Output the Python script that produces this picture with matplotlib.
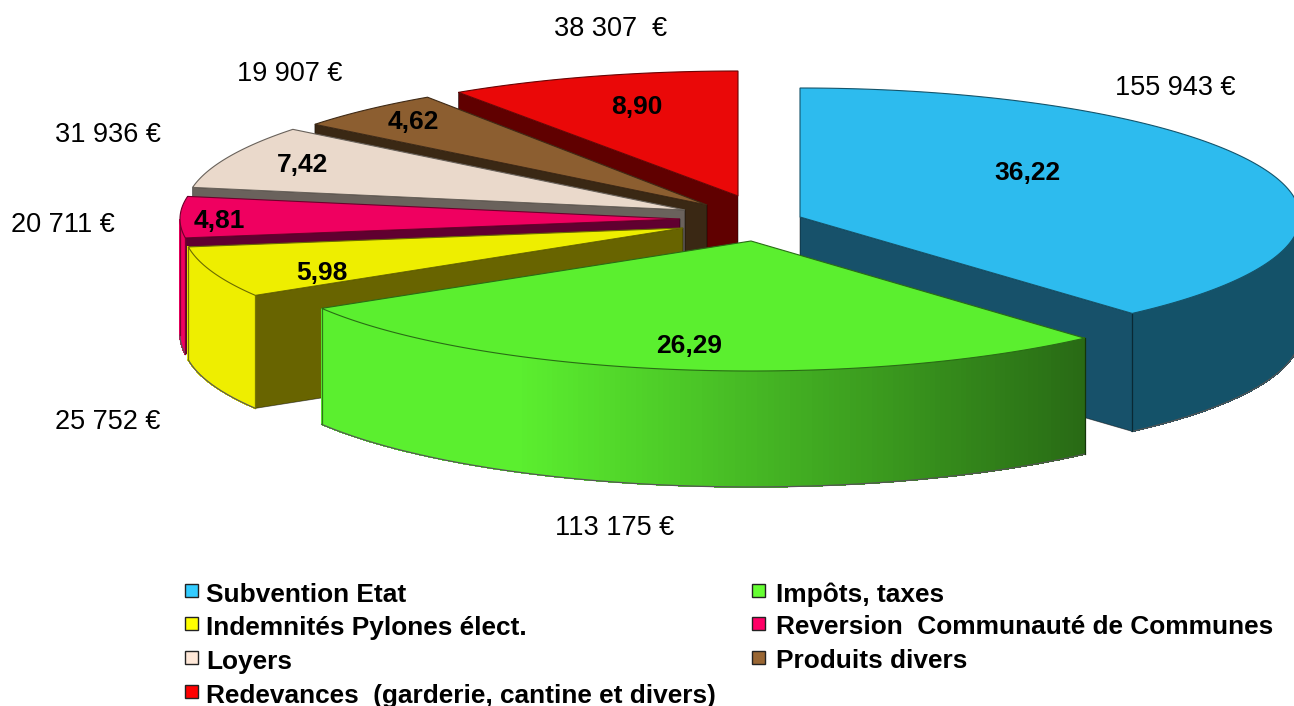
import numpy as np
from matplotlib import pyplot as plt
from matplotlib.patches import Polygon, Rectangle

plt.rcParams['font.family'] = ['Liberation Sans', 'DejaVu Sans']

names = ['Subvention Etat', 'Impôts, taxes', 'Indemnités Pylones élect.',
         'Reversion  Communauté de Communes', 'Loyers', 'Produits divers',
         'Redevances  (garderie, cantine et divers)']
euros = [155943, 113175, 25752, 20711, 31936, 19907, 38307]
percents = ['36,22', '26,29', '5,98', '4,81', '7,42', '4,62', '8,90']
euro_labels = ['155 943 €', '113 175 €', '25 752 €', '20 711 €', '31 936 €', '19 907 €', '38 307  €']

top_colors = ['#2dbbee', '#5bef2f', '#eeee00', '#ef0060', '#ead9cb', '#8c5e30', '#ea0808']
face_colors = ['#17516a', '#2a6a10', '#686400', '#600030', '#6a625c', '#3a2814', '#600000']
legend_colors = ['#33ccff', '#66ff33', '#ffff00', '#ff0066', '#ffe8d8', '#996633', '#ff0000']

# where each exploded slice has its tip, in pixels
tips = [(800, 217), (751, 241), (683, 228), (680, 219), (685, 210), (707, 205), (738, 196)]
ry_list = [129, 130, 130, 130, 130, 130, 125]
rx_list = [500, 502, 500, 500, 500, 500, 500]
h_list = [118, 116, 113, 116, 116, 116, 116]

pct_pos = [(1027, 173), (689, 346), (322, 273), (219, 221), (302, 165), (413, 122), (637, 107)]
euro_pos = [(1175, 88), (615, 528), (108, 422), (63, 225), (108, 135), (290, 74), (611, 29)]
legend_pos = [(186, 593), (753, 593), (186, 626), (753, 626), (186, 660), (753, 660), (186, 694)]


def rim(tip, rx, ry, t):
    return tip[0] + rx*np.sin(t), tip[1] - ry*np.cos(t)


def shade(col, x):
    # walls get darker toward the right side
    k = np.interp(x, [520, 1090], [1., 0.44])
    return tuple(k*c for c in plt.matplotlib.colors.to_rgb(col))


fig = plt.figure(figsize=(12.94, 7.06), dpi=100)
ax = fig.add_axes([0, 0, 1, 1])
ax.set_xlim(0, 1294)
ax.set_ylim(706, 0)
ax.axis('off')

edges = np.cumsum([0] + euros)/sum(euros)*2*np.pi
order = [0, 6, 5, 4, 3, 2, 1]  # back to front

for ii in order:
    t1, t2 = edges[ii], edges[ii+1]
    tip, rx, ry, H = tips[ii], rx_list[ii], ry_list[ii], h_list[ii]
    ts = np.linspace(t1, t2, 160)
    xs, ys = rim(tip, rx, ry, ts)
    z0 = order.index(ii)*3

    # straight side of the slice, seen only when it faces the viewer
    side = None
    if t2 < np.pi:
        side = t2
    elif t1 > np.pi:
        side = t1
    if side is not None:
        sx, sy = rim(tip, rx, ry, side)
        ax.add_patch(Polygon([tip, (sx, sy), (sx, sy+H), (tip[0], tip[1]+H)],
                             fc=face_colors[ii], ec='#00000088', lw=0.6, zorder=z0+1))

    # outer wall, cut in strips for the shading
    for jj in range(len(ts)-1):
        tm = (ts[jj]+ts[jj+1])/2
        if np.pi/2 < tm < 3*np.pi/2:
            col = shade(top_colors[ii], xs[jj])
            ax.add_patch(Polygon([(xs[jj], ys[jj]), (xs[jj+1], ys[jj+1]),
                                  (xs[jj+1], ys[jj+1]+H), (xs[jj], ys[jj]+H)],
                                 fc=col, ec=col, lw=0.5, antialiased=False, zorder=z0+2))
    front = (ts > np.pi/2) & (ts < 3*np.pi/2)
    if front.any():
        ax.plot(xs[front], ys[front]+H, color='#555555', lw=0.9, zorder=z0+2)
        # upright lines at the ends of the wall
        for kk in (np.where(front)[0][0], np.where(front)[0][-1]):
            ax.plot([xs[kk], xs[kk]], [ys[kk], ys[kk]+H],
                    color=tuple(0.5*c for c in shade(top_colors[ii], xs[kk])), lw=0.9, zorder=z0+2)

    # top of the slice
    top = list(zip(xs, ys)) + [tip]
    ax.add_patch(Polygon(top, closed=True, fc=top_colors[ii],
                         ec=tuple(0.45*c for c in plt.matplotlib.colors.to_rgb(top_colors[ii])),
                         lw=0.8, zorder=z0+3))

for ii in range(len(euros)):
    ax.text(pct_pos[ii][0], pct_pos[ii][1], percents[ii], fontsize=19, fontweight='bold',
            ha='center', va='center', color='black', zorder=50)
    ax.text(euro_pos[ii][0], euro_pos[ii][1], euro_labels[ii], fontsize=19.5, ha='center', va='center',
            color='black', zorder=50)
    lx, ly = legend_pos[ii]
    ax.add_patch(Rectangle((lx-1, ly-9), 13, 13, fc=legend_colors[ii], ec='#222222', lw=1., zorder=50))
    ax.text(lx+(20 if lx < 500 else 23), ly+1.5, names[ii], fontsize=18.9, fontweight='bold',
            ha='left', va='center', color='black', zorder=50)

fig.savefig('out.png', dpi=100)
